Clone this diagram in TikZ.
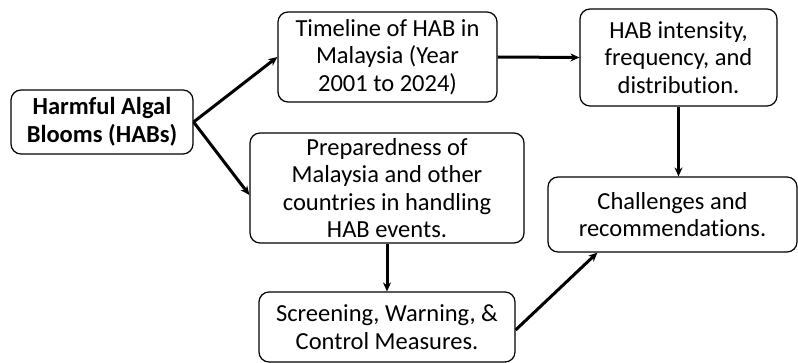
\documentclass[tikz,border=0pt]{standalone}
\usepackage{fontspec}
\setmainfont[RawFeature={-liga}]{Carlito}
\usetikzlibrary{arrows.meta}

\tikzset{
    box/.style={draw, rounded corners=10pt, line width=1.2pt, align=center,
        inner sep=0pt, font=\fontsize{24.5}{27.5}\selectfont},
    link/.style={line width=3pt, -{Stealth[length=9pt,width=8pt]}}
}

\begin{document}
\begin{tikzpicture}[x=1pt, y=-1pt]
                    \useasboundingbox (0,0) rectangle (798,363);

                    \node[box, minimum width=182pt, minimum height=64pt] (hab) at (102,122)
                        {\textbf{Harmful Algal}\\\textbf{Blooms (HABs)}};
                    \node[box, minimum width=219pt, minimum height=90pt] (timeline) at (387.5,57)
                        {Timeline of HAB in\\Malaysia (Year\\2001 to 2024)};
                    \node[box, minimum width=197pt, minimum height=97pt] (intensity) at (678.5,57.5)
                        {HAB intensity,\\frequency, and\\distribution.};
                    \node[box, minimum width=274pt, minimum height=110pt] (prepared) at (387,188)
                        {Preparedness of\\Malaysia and other\\countries in handling\\HAB events.};
                    \node[box, minimum width=256pt, minimum height=70pt] (screening) at (387,327)
                        {Screening, Warning, \&\\Control Measures.};
                    \node[box, minimum width=249pt, minimum height=75pt] (challenge) at (672.5,214.5)
                        {Challenges and\\recommendations.};

                    \draw[link] (hab.east) -- (timeline.west);
                    \draw[link] (hab.east) -- ([yshift=-7pt]prepared.west);
                    \draw[link] (timeline.east) -- (intensity.west);
                    \draw[link] (intensity.south) -- (intensity.south |- challenge.north);
                    \draw[link] (prepared.south) -- (screening.north);
                    \draw[link] ([yshift=-3pt]screening.east) -- ([xshift=50pt]challenge.south west);
                \end{tikzpicture}
\end{document}
